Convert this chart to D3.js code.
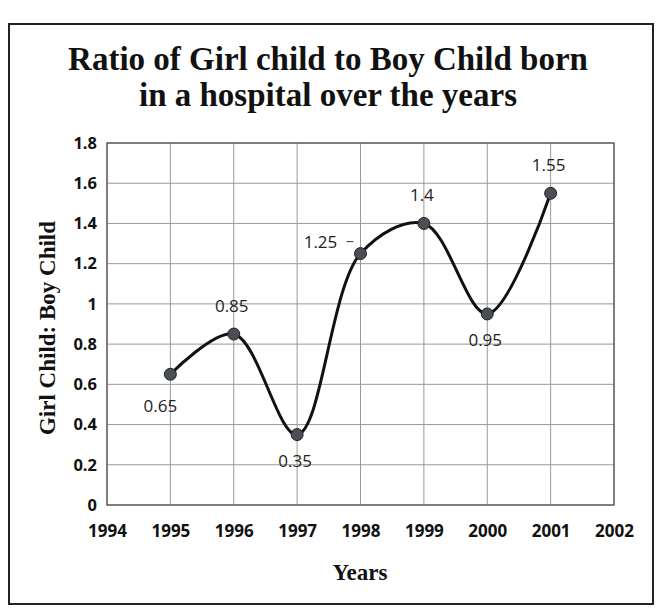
<!DOCTYPE html>
<html><head><meta charset="utf-8">
<script src="https://cdn.jsdelivr.net/npm/d3@7"></script>
<style>body{margin:0;background:#fff}</style>
</head><body>
<svg id="c" width="658" height="610"></svg>
<script>
const years = [1995, 1996, 1997, 1998, 1999, 2000, 2001];
const ratios = [0.65, 0.85, 0.35, 1.25, 1.4, 0.95, 1.55];
const labels = ["0.65", "0.85", "0.35", "1.25", "1.4", "0.95", "1.55"];
const xTicks = [1994, 1995, 1996, 1997, 1998, 1999, 2000, 2001, 2002];
const yTicks = [0, 0.2, 0.4, 0.6, 0.8, 1, 1.2, 1.4, 1.6, 1.8];
const labelPos = ["below-left", "above", "below", "left", "above", "below", "above"];

const svg = d3.select("#c");
svg.append("rect").attr("x", 9).attr("y", 24).attr("width", 644).attr("height", 580)
  .attr("fill", "#fff").attr("stroke", "#222").attr("stroke-width", 2);

const x = d3.scaleLinear().domain([1994, 2002]).range([107, 614]);
const y = d3.scaleLinear().domain([0, 1.8]).range([505, 143]);

const titleLines = ["Ratio of Girl child to Boy Child born", "in a hospital over the years"];
svg.selectAll(".title").data(titleLines).join("text")
  .attr("x", 328).attr("y", (d, i) => 70 + i * 36).attr("text-anchor", "middle")
  .attr("font-family", "Liberation Serif").attr("font-weight", "bold").attr("font-size", 33)
  .attr("fill", "#111").text(d => d);

// grid
const g = svg.append("g");
g.selectAll(".hg").data(yTicks).join("line")
  .attr("x1", x(1994)).attr("x2", x(2002)).attr("y1", d => y(d)).attr("y2", d => y(d))
  .attr("stroke", "#999").attr("stroke-width", 1);
g.selectAll(".vg").data(xTicks).join("line")
  .attr("x1", d => x(d)).attr("x2", d => x(d)).attr("y1", y(0)).attr("y2", y(1.8))
  .attr("stroke", "#999").attr("stroke-width", 1);
g.append("rect").attr("x", x(1994)).attr("y", y(1.8)).attr("width", x(2002) - x(1994))
  .attr("height", y(0) - y(1.8)).attr("fill", "none").attr("stroke", "#555").attr("stroke-width", 1.3);

// axes
const yAxis = d3.axisLeft(y).tickValues(yTicks).tickSize(0).tickPadding(10).tickFormat(d => d3.format("")(d));
const ya = svg.append("g").attr("transform", `translate(${x(1994)},0)`).call(yAxis);
ya.select(".domain").remove();
ya.selectAll("text").attr("font-family", "Open Sans").attr("font-weight", "bold").attr("font-size", 16.5).attr("fill", "#111");

const xAxis = d3.axisBottom(x).tickValues(xTicks).tickSize(0).tickPadding(20).tickFormat(d3.format("d"));
const xa = svg.append("g").attr("transform", `translate(0,${y(0)})`).call(xAxis);
xa.select(".domain").remove();
xa.selectAll("text").attr("font-family", "Open Sans").attr("font-weight", "bold").attr("font-size", 17).attr("fill", "#111");

svg.append("text").attr("transform", "translate(55,328) rotate(-90)").attr("text-anchor", "middle")
  .attr("font-family", "Liberation Serif").attr("font-weight", "bold").attr("font-size", 23)
  .attr("fill", "#111").text("Girl Child: Boy Child");
svg.append("text").attr("x", 360).attr("y", 580).attr("text-anchor", "middle")
  .attr("font-family", "Liberation Serif").attr("font-weight", "bold").attr("font-size", 23)
  .attr("fill", "#111").text("Years");

// line
const data = years.map((yr, i) => ({yr, v: ratios[i], lab: labels[i], pos: labelPos[i]}));
const line = d3.line().x(d => x(d.yr)).y(d => y(d.v)).curve(d3.curveCatmullRom.alpha(0.5));
svg.append("path").datum(data).attr("d", line).attr("fill", "none")
  .attr("stroke", "#111").attr("stroke-width", 3);
svg.selectAll(".pt").data(data).join("circle")
  .attr("cx", d => x(d.yr)).attr("cy", d => y(d.v)).attr("r", 6)
  .attr("fill", "#4a4f55").attr("stroke", "#222").attr("stroke-width", 1);

const off = {"below-left": [-10, 38], "above": [-2, -22], "below": [-2, 32], "left": [-40, -6]};
svg.selectAll(".lab").data(data).join("text")
  .attr("x", d => x(d.yr) + off[d.pos][0]).attr("y", d => y(d.v) + off[d.pos][1])
  .attr("text-anchor", "middle").attr("font-family", "Open Sans").attr("font-size", 17)
  .attr("fill", "#222").text(d => d.lab);
// leader line for left-placed label
svg.selectAll(".lead").data(data.filter(d => d.pos === "left")).join("line")
  .attr("x1", d => x(d.yr) - 14).attr("x2", d => x(d.yr) - 7)
  .attr("y1", d => y(d.v) - 12).attr("y2", d => y(d.v) - 12)
  .attr("stroke", "#333").attr("stroke-width", 1);
</script>
</body></html>
